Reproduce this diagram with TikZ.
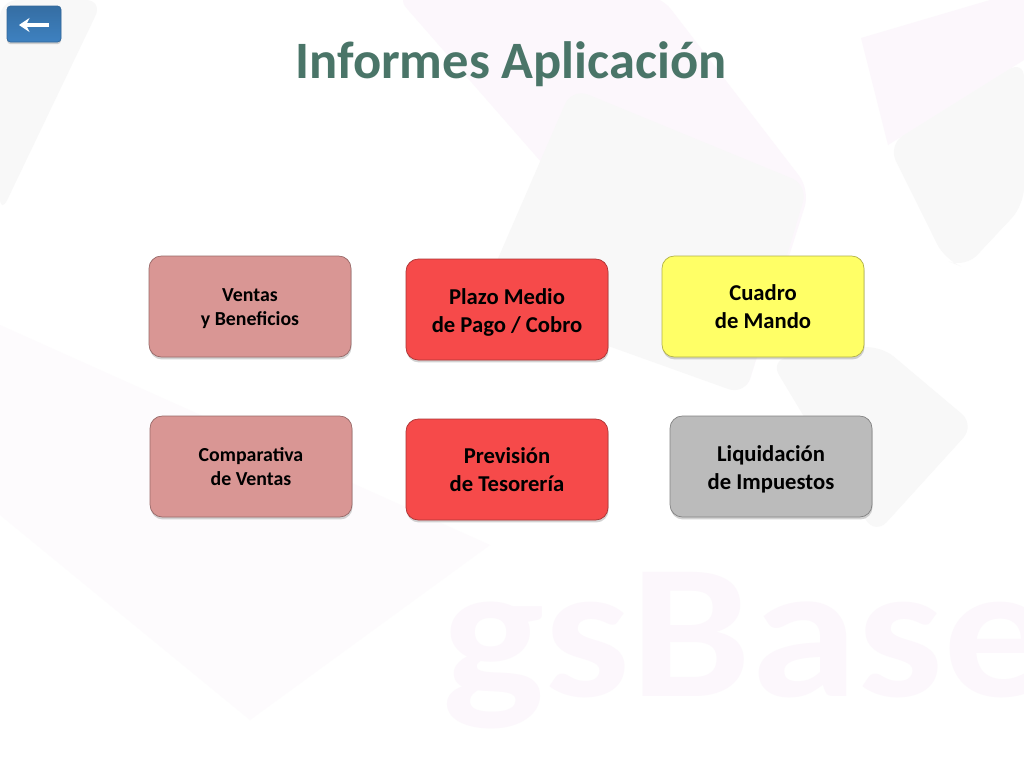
\documentclass[tikz,border=0pt]{standalone}
\usepackage{fontspec}
\setmainfont{Carlito}
\usetikzlibrary{shadows,arrows.meta}
\definecolor{titlegreen}{HTML}{4A7568}
\definecolor{rosebox}{HTML}{D99694}
\definecolor{redbox}{HTML}{F64A4A}
\definecolor{yellowbox}{HTML}{FFFF66}
\definecolor{greybox}{HTML}{BBBBBB}
\definecolor{buttonblue}{HTML}{3E81C0}
\definecolor{marklilac}{HTML}{FCF7FC}
\definecolor{markfaint}{HTML}{FDFBFD}
\definecolor{markgrey}{HTML}{F8F8F8}
\newcommand{\nudge}[1]{\rule{0pt}{#1}}
\tikzset{
  informe/.style={draw=#1!70!black, rounded corners=7pt, minimum width=202*0.02cm,
    minimum height=101*0.02cm, align=center, text=black,
    fill=#1, drop shadow={shadow xshift=0.3pt, shadow yshift=-1.4pt, opacity=0.35}},
  small/.style={font=\fontsize{11.3}{13.7}\selectfont\bfseries},
  large/.style={font=\fontsize{12.9}{15.7}\selectfont\bfseries},
  markg/.style={fill=markgrey, rounded corners=10pt}
}
\begin{document}
\begin{tikzpicture}[x=0.02cm, y=-0.02cm]
\useasboundingbox (0,0) rectangle (1024,768);
% Background
    \fill[white] (0,0) rectangle (1024,768);
    \fill[markg] (0,0) -- (103,0) -- (0,215) -- cycle;
    \fill[marklilac, rounded corners=10pt] (395,-5) -- (660,-5) -- (810,190) -- (745,395) -- cycle;
    \fill[markg] (572,88) -- (808,185) -- (745,395) -- (480,300) -- cycle;
    \fill[marklilac] (861,38) -- (1024,-10) -- (1024,60) -- (888,145) -- cycle;
    \fill[markg] (888,145) -- (1024,60) -- (1024,205) -- (965,268) -- (945,260) -- cycle;
    \fill[markg] (770,360) -- (880,345) -- (975,425) -- (875,535) -- cycle;
    \fill[markfaint] (0,325) -- (490,545) -- (250,720) -- (0,515) -- cycle;
    \node[font=\fontsize{109}{109}\selectfont\bfseries, text=marklilac, anchor=base west, inner sep=0pt, transform shape, xscale=1.125] (watermark) at (442,696) {gsBase};
% Title
    \node[font=\fontsize{29.9}{34}\selectfont\bfseries, text=titlegreen] (title) at (511,64) {Informes Aplicación};
% Back button
    \node[top color=buttonblue!85!black, bottom color=buttonblue, draw=buttonblue!80!black, rounded corners=2pt, minimum width=54*0.02cm, minimum height=36*0.02cm,
      drop shadow={shadow xshift=0pt, shadow yshift=-1.2pt, opacity=0.35}] (back) at (34,24) {};
    \coordinate (backtip) at (19,25);
    \coordinate (backend) at (49,25);
    \draw[white, line width=2.2pt, -{Stealth[length=6pt,width=8pt]}] (backend) -- (backtip);
% Reports
    \node[informe=rosebox, small] (ventas) at (250,306.5) {\nudge{10pt}Ventas\\y Beneficios};
    \node[informe=redbox, large] (plazo) at (507,309.5) {\nudge{12.5pt}Plazo Medio\\de Pago / Cobro};
    \node[informe=yellowbox, large] (cuadro) at (763,306.5) {Cuadro\\de Mando};
    \node[informe=rosebox, small] (comparativa) at (251,466.5) {Comparativa\\de Ventas};
    \node[informe=redbox, large] (prevision) at (507,469.5) {Previsión\\de Tesorería};
    \node[informe=greybox, large] (liquidacion) at (771,466.5) {\nudge{12.5pt}Liquidación\\de Impuestos};
\end{tikzpicture}
\end{document}
